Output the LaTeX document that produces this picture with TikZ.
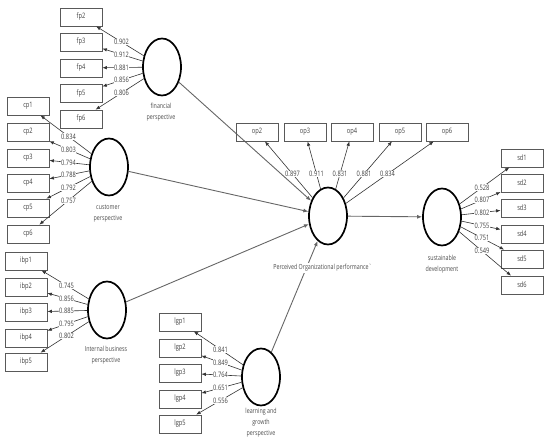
\documentclass[tikz,border=0pt]{standalone}
\usepackage{fontspec}
\setmainfont{Open Sans}[FakeStretch=0.76]
\usetikzlibrary{arrows.meta,shapes.geometric,calc}
\begin{document}
\begin{tikzpicture}[x=1pt,y=-1pt,
  lv/.style={ellipse,draw=black,line width=1.7pt,minimum width=38pt,minimum height=57pt,inner sep=0pt},
  ind/.style={rectangle,draw=black!65,line width=0.7pt,minimum width=42pt,minimum height=18pt,inner sep=0pt,font=\fontsize{7.5}{8}\selectfont,text=black!75},
  load/.style={draw=black!80,line width=0.6pt,-{Latex[length=4.5pt,width=3.5pt]}},
  struct/.style={draw=black!60,line width=0.9pt,-{Latex[length=5pt,width=4pt]},color=black!60},
  coef/.style={fill=white,inner sep=0.5pt,font=\fontsize{7.5}{8}\selectfont,text=black!75},
  lvlab/.style={align=center,font=\fontsize{7}{11}\selectfont,text=black!70}
]
\useasboundingbox (0,0) rectangle (550,444);

% latent variables
\node[lv] (FP) at (162,67) {};
\node[lv] (CP) at (109,167) {};
\node[lv] (IBP) at (107,310) {};
\node[lv] (LGP) at (261,377) {};
\node[lv] (POP) at (328,216) {};
\node[lv] (SD) at (442,217) {};

% structural paths
\draw[struct] (FP) -- (POP);
\draw[struct] (CP) -- (POP);
\draw[struct] (IBP) -- (POP);
\draw[struct] (LGP) -- (POP);
\draw[struct] (POP) -- (SD);

\node[lvlab] (FPl) at (161,112) {financial\\perspective};
\node[lvlab] (CPl) at (108,214) {customer\\perspective};
\node[lvlab] (IBPl) at (106,355) {Internal business\\perspective};
\node[lvlab] (LGPl) at (261,423) {learning and\\growth\\perspective};
\node[lvlab,fill=white,inner sep=1pt] (POPl) at (323,268) {Perceived Organizational performance\textasciigrave};
\node[lvlab] (SDl) at (442,264) {sustainable\\development};

% financial
\foreach \n/\y/\v in {fp2/17/0.902,fp3/42/0.912,fp4/68/0.881,fp5/93.5/0.856,fp6/119/0.806}{
  \node[ind] (\n) at (81,\y) {\n};
  \draw[load] (FP) -- (\n);
  \node[coef] (c\n) at ($(FP)!0.5!(\n)$) {\v};
}
% customer
\foreach \n/\y/\v in {cp1/106/0.834,cp2/132/0.803,cp3/158/0.794,cp4/183/0.788,cp5/208/0.792,cp6/234/0.757}{
  \node[ind] (\n) at (28,\y) {\n};
  \draw[load] (CP) -- (\n);
  \node[coef] (c\n) at ($(CP)!0.5!(\n)$) {\v};
}
% internal business
\foreach \n/\y/\v in {ibp1/261/0.745,ibp2/287/0.856,ibp3/312/0.885,ibp4/338/0.795,ibp5/362/0.802}{
  \node[ind] (\n) at (26,\y) {\n};
  \draw[load] (IBP) -- (\n);
  \node[coef] (c\n) at ($(IBP)!0.5!(\n)$) {\v};
}
% learning and growth
\foreach \n/\y/\v in {lgp1/322/0.841,lgp2/348/0.849,lgp3/373/0.764,lgp4/399/0.651,lgp5/424/0.556}{
  \node[ind] (\n) at (180,\y) {\n};
  \draw[load] (LGP) -- (\n);
  \node[coef] (c\n) at ($(LGP)!0.5!(\n)$) {\v};
}
% perceived organizational performance
\foreach \n/\x/\v in {op2/257/0.897,op3/305/0.911,op4/352/0.831,op5/400/0.881,op6/447/0.834}{
  \node[ind] (\n) at (\x,132) {\n};
  \draw[load] (POP) -- (\n);
  \node[coef] (c\n) at ($(POP)!0.5!(\n)$) {\v};
}
% sustainable development
\foreach \n/\y/\v in {sd1/158/0.528,sd2/183/0.807,sd3/208/0.802,sd4/234/0.755,sd5/259/0.751,sd6/285/0.549}{
  \node[ind] (\n) at (522,\y) {\n};
  \draw[load] (SD) -- (\n);
  \node[coef] (c\n) at ($(SD)!0.5!(\n)$) {\v};
}
\end{tikzpicture}
\end{document}
